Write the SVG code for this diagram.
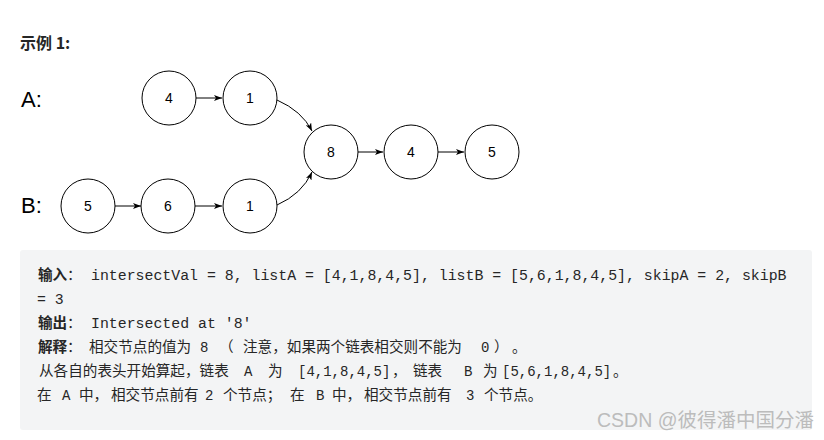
<svg xmlns="http://www.w3.org/2000/svg" width="824" height="440" viewBox="0 0 824 440">
<defs>
<marker id="arr" markerWidth="8" markerHeight="6" refX="8" refY="3" orient="auto" markerUnits="userSpaceOnUse">
<path d="M0,0 L8,3 L0,6 L2,3 z" fill="#000"/>
</marker>
<style>
.node circle{fill:#fff;stroke:#000;stroke-width:1}
.node text{font-family:"Liberation Sans",Arial,sans-serif;font-size:14px;fill:#000;text-anchor:middle}
.edge{fill:none;stroke:#000;stroke-width:1;marker-end:url(#arr)}
.lbl{font-family:"Liberation Sans",Arial,sans-serif;font-size:22px;fill:#000}
.cjk{font-family:"Noto Sans CJK SC","Liberation Sans",sans-serif;font-size:14.6px;fill:#262626}
.b{font-weight:bold}
.mono{font-family:"Liberation Mono","Courier New",monospace;font-size:14.87px;fill:#262626}
.mono2{font-family:"Liberation Mono","Courier New",monospace;font-size:14px;fill:#262626}
</style>
</defs>
<rect width="824" height="440" fill="#fff"/>
<text x="20" y="49" font-family="Noto Sans CJK SC,Liberation Sans,sans-serif" font-size="16" font-weight="bold" fill="#262626">示例 1:</text>
<text class="lbl" x="21" y="107">A:</text>
<text class="lbl" x="21" y="213">B:</text>
<g id="connectors">
<path class="edge" d="M196,98 L222,98"/>
<path class="edge" d="M277,100 Q302,111 312,131"/>
<path class="edge" d="M115,206 L141,206"/>
<path class="edge" d="M195,206 L222,206"/>
<path class="edge" d="M277,205 Q302,194 312,172"/>
<path class="edge" d="M358,152 L383,152"/>
<path class="edge" d="M438,152 L464,152"/>
</g>
<g id="nodeA4" class="node"><circle cx="169" cy="98" r="27"/><text x="169" y="103">4</text></g>
<g id="nodeA1" class="node"><circle cx="250" cy="98" r="27"/><text x="250" y="103">1</text></g>
<g id="nodeB5" class="node"><circle cx="88" cy="206" r="27"/><text x="88" y="211">5</text></g>
<g id="nodeB6" class="node"><circle cx="168" cy="206" r="27"/><text x="168" y="211">6</text></g>
<g id="nodeB1" class="node"><circle cx="250" cy="206" r="27"/><text x="250" y="211">1</text></g>
<g id="nodeC8" class="node"><circle cx="331" cy="152" r="27"/><text x="331" y="157">8</text></g>
<g id="nodeC4" class="node"><circle cx="411" cy="152" r="27"/><text x="411" y="157">4</text></g>
<g id="nodeC5" class="node"><circle cx="492" cy="152" r="27"/><text x="492" y="157">5</text></g>
<g id="example">
<rect x="20" y="250" width="792" height="180" rx="3" fill="#f3f4f5"/>
<text class="cjk" y="280"><tspan x="38" class="b">输入</tspan><tspan x="67">：</tspan></text>
<text class="mono" x="91" y="280">intersectVal = 8, listA = [4,1,8,4,5], listB = [5,6,1,8,4,5], skipA = 2, skipB</text>
<text class="mono" x="37" y="304">= 3</text>
<text class="cjk" y="328"><tspan x="38" class="b">输出</tspan><tspan x="67">：</tspan></text>
<text class="mono" x="91" y="328">Intersected at '8'</text>
<text class="cjk" y="352"><tspan x="38" class="b">解释</tspan><tspan x="67">：</tspan><tspan x="89">相交节点的值为</tspan><tspan x="219">（</tspan></text>
<text class="cjk" y="352" font-size="15"><tspan x="243">注意，如果两个链表相交则不能为</tspan><tspan x="494">）</tspan><tspan x="512">。</tspan></text>
<text class="mono2" y="352"><tspan x="200">8</tspan><tspan x="481">0</tspan></text>
<text class="cjk" y="376"><tspan x="39">从各自的表头开始算起，链表</tspan><tspan x="268">为</tspan><tspan x="392">，</tspan><tspan x="413">链表</tspan><tspan x="483">为</tspan><tspan x="613">。</tspan></text>
<text class="mono2" y="376"><tspan x="244">A</tspan><tspan x="298">[4,1,8,4,5]</tspan><tspan x="464">B</tspan><tspan x="502">[5,6,1,8,4,5]</tspan></text>
<text class="cjk" y="400"><tspan x="37">在</tspan><tspan x="79">中，</tspan><tspan x="111">相交节点前有</tspan><tspan x="223">个节点；</tspan><tspan x="290">在</tspan><tspan x="332">中，</tspan><tspan x="364">相交节点前有</tspan><tspan x="484">个节点。</tspan></text>
<text class="mono2" y="400"><tspan x="62">A</tspan><tspan x="205">2</tspan><tspan x="316">B</tspan><tspan x="466">3</tspan></text>
</g>
<text x="597" y="427" font-family="Liberation Sans,Noto Sans CJK SC,sans-serif" font-size="19.5" fill="#bcbcbc">CSDN @彼得潘中国分潘</text>
</svg>
